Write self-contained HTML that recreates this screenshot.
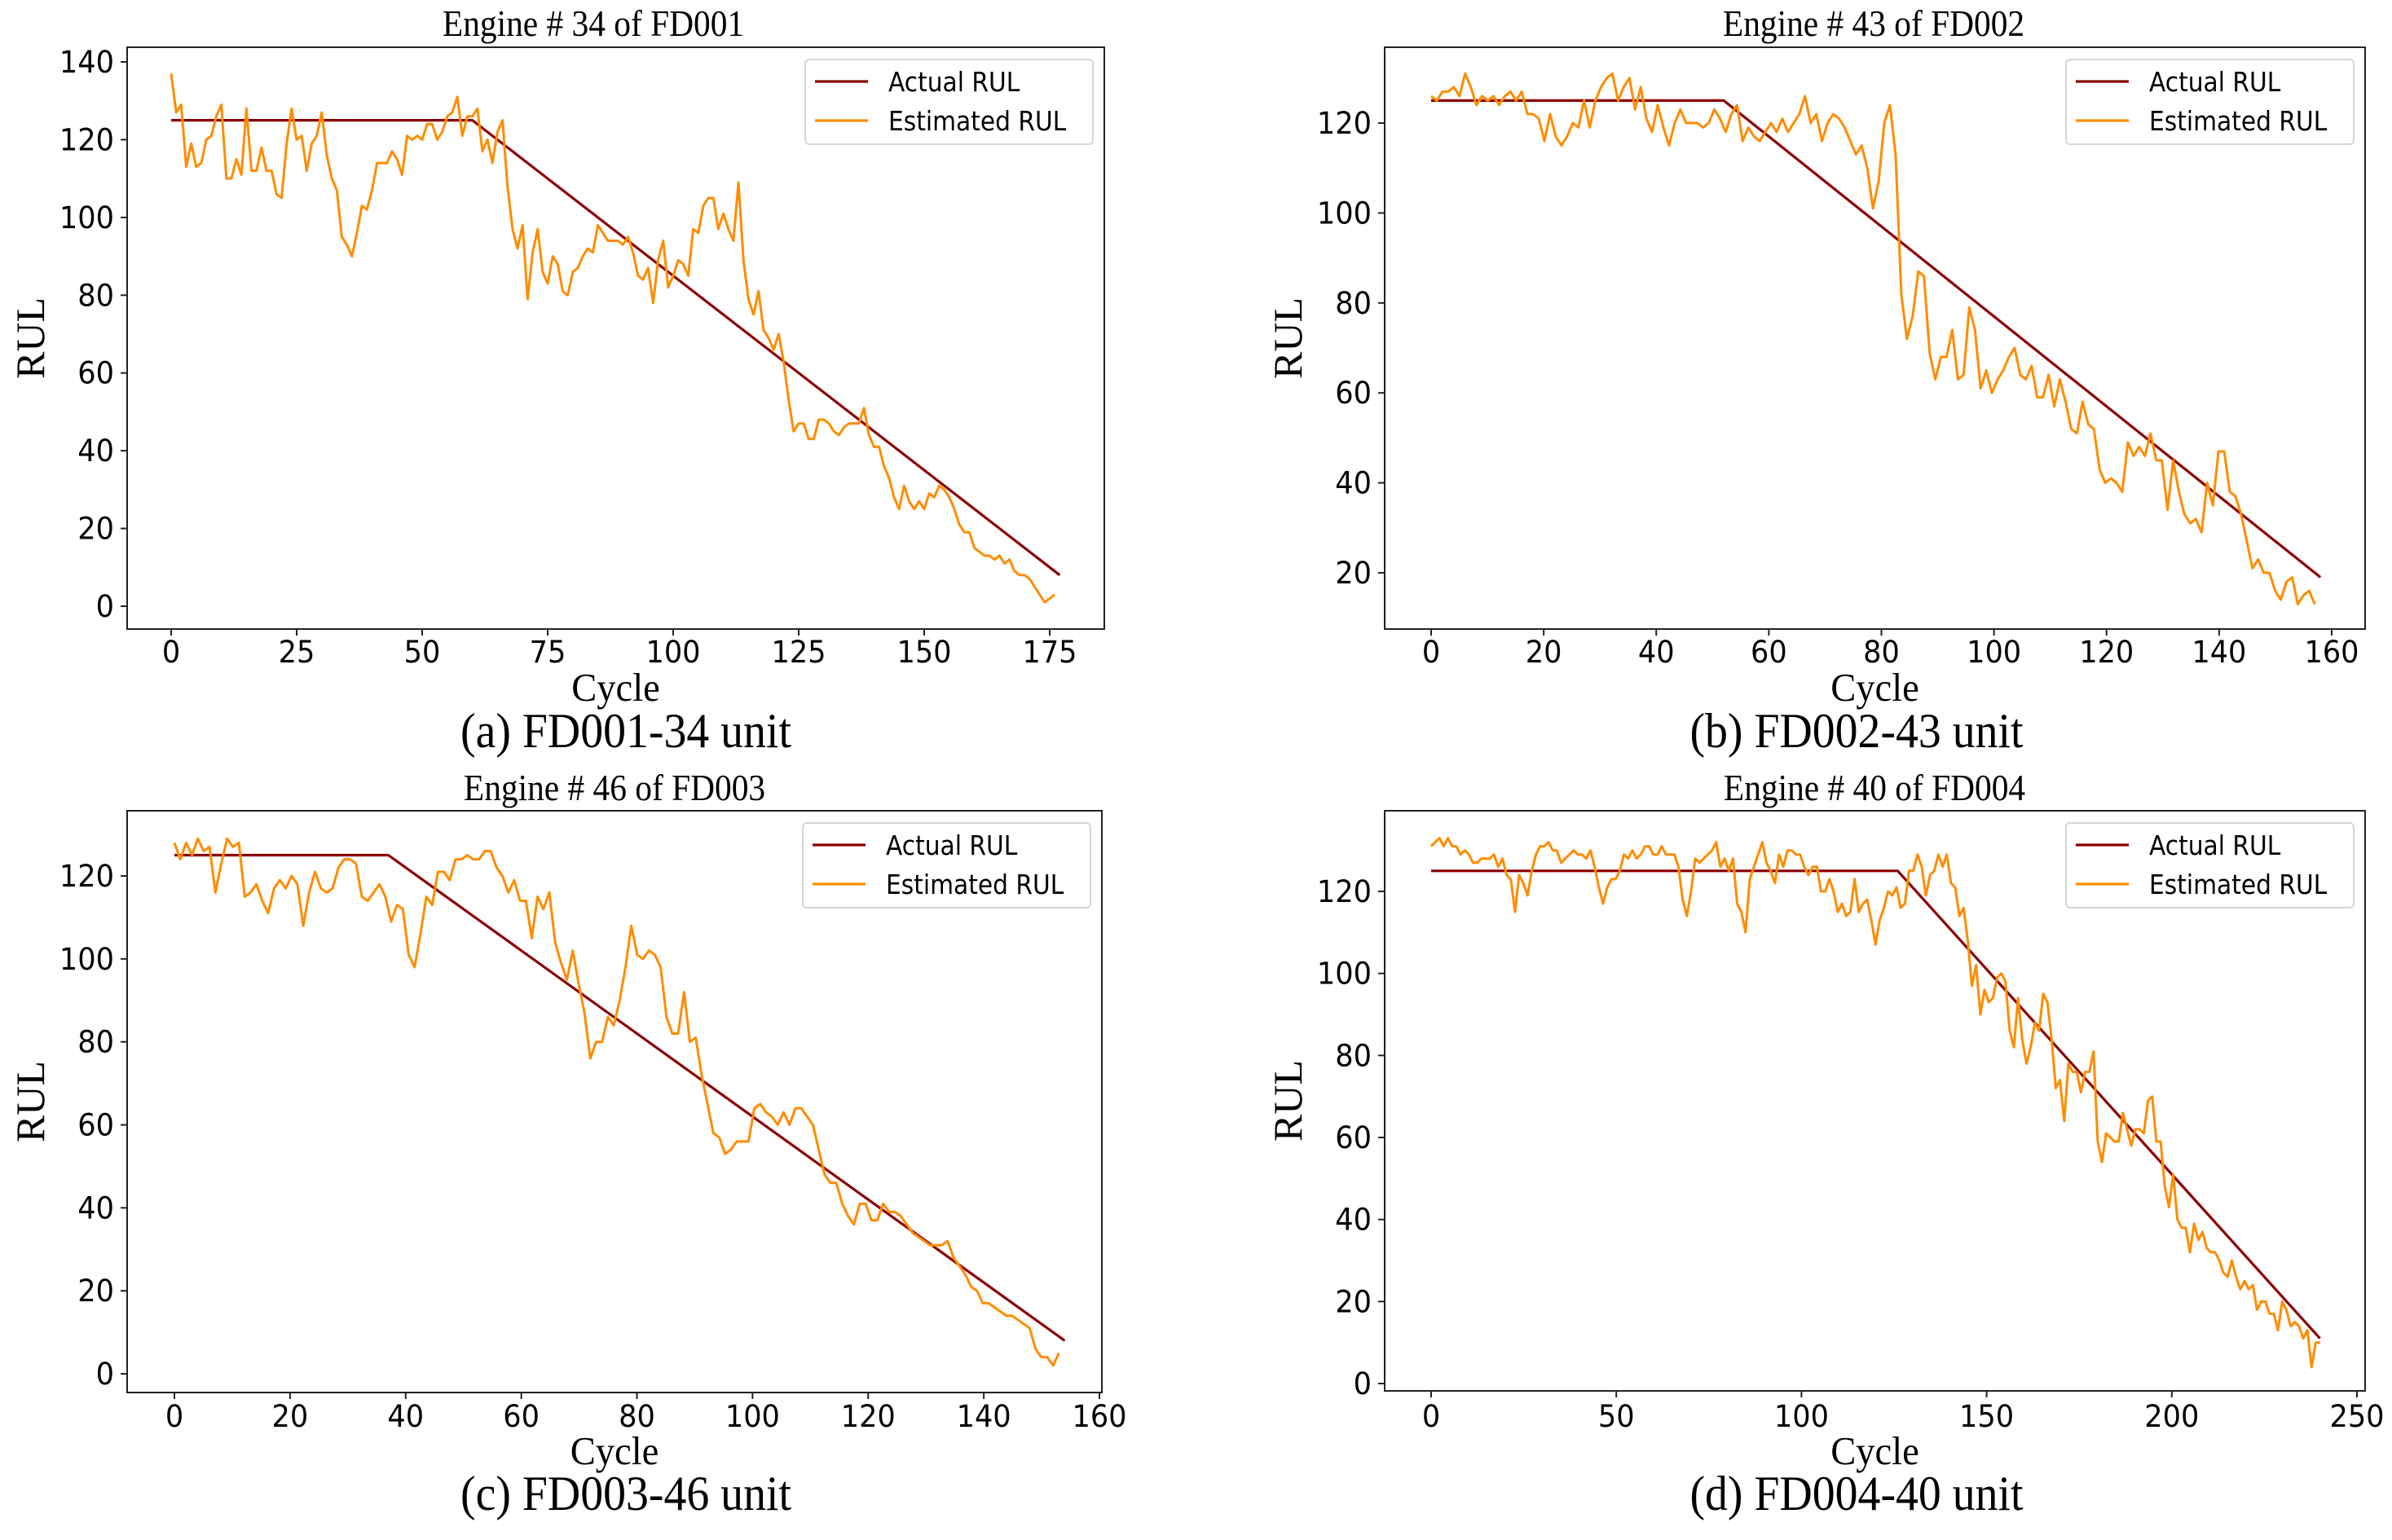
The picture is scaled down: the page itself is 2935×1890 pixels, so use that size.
<!DOCTYPE html>
<html><head><meta charset="utf-8"><style>
html,body{margin:0;padding:0;background:#fff;}
svg{display:block;}
</style></head><body>
<svg id="fig" width="2935" height="1890" viewBox="0 0 2935 1890" xmlns="http://www.w3.org/2000/svg"></svg>
<script>
// ---------- data ----------
const actualCyclesA=[0,60,177]; const actualValsA=[125,125,8];
const lastCycleA=176;
const estA=[137,127,129,113,119,113,114,120,121,126,129,110,110,115,111,128,112,112,118,112,112,106,105,119,128,120,121,112,119,121,127,116,110,107,95,93,90,96,103,102,107,114,114,114,117,115,111,121,120,121,120,124,124,120,122,126,127,131,121,126,126,128,117,120,114,122,125,108,97,92,98,79,91,97,86,83,90,88,81,80,86,87,90,92,91,98,96,94,94,94,93,95,91,85,84,87,78,89,94,82,85,89,88,85,97,96,103,105,105,97,101,97,94,109,89,79,75,81,71,69,66,70,63,53,45,47,47,43,43,48,48,47,45,44,46,47,47,47,51,44,41,41,36,33,28,25,31,27,25,27,25,29,28,31,30,28,25,21,19,19,15,14,13,13,12,13,11,12,9,8,8,7,5,3,1,2,3];
const xTicksA=[0,25,50,75,100,125,150,175]; const yTicksA=[0,20,40,60,80,100,120,140];

const actualCyclesB=[0,52,158]; const actualValsB=[125,125,19];
const lastCycleB=157;
const estB=[126,125,127,127,128,126,131,128,124,126,125,126,124,126,127,125,127,122,122,121,116,122,117,115,117,120,119,125,119,125,128,130,131,125,128,130,123,128,121,118,124,119,115,120,123,120,120,120,119,120,123,121,118,122,124,116,119,117,116,118,120,118,121,118,120,122,126,120,122,116,120,122,121,119,116,113,115,110,101,107,120,124,113,82,72,77,87,86,69,63,68,68,74,63,64,79,74,61,65,60,63,65,68,70,64,63,66,59,59,64,57,63,58,52,51,58,53,52,43,40,41,40,38,49,46,48,46,51,45,45,34,45,38,33,31,32,29,40,35,47,47,38,37,33,27,21,23,20,20,16,14,18,19,13,15,16,13];
const xTicksB=[0,20,40,60,80,100,120,140,160]; const yTicksB=[20,40,60,80,100,120];

const actualCyclesC=[0,37,154]; const actualValsC=[125,125,8];
const lastCycleC=153;
const estC=[128,124,128,125,129,126,127,116,123,129,127,128,115,116,118,114,111,117,119,117,120,118,108,116,121,117,116,117,122,124,124,123,115,114,116,118,115,109,113,112,101,98,106,115,113,121,121,119,124,124,125,124,124,126,126,122,120,116,119,114,114,105,115,112,116,104,99,95,102,94,87,76,80,80,86,84,90,98,108,101,100,102,101,98,86,82,82,92,80,81,72,65,58,57,53,54,56,56,56,64,65,63,62,60,63,60,64,64,62,60,54,48,46,46,41,38,36,41,41,37,37,41,39,39,38,36,34,33,32,31,31,31,32,28,26,24,21,20,17,17,16,15,14,14,13,12,11,6,4,4,2,5];
const xTicksC=[0,20,40,60,80,100,120,140,160]; const yTicksC=[0,20,40,60,80,100,120];

const actualCyclesD=[0,126,240]; const actualValsD=[125,125,11];
const lastCycleD=240;
const estD=[131,132,133,131,133,131,131,129,130,129,127,127,128,128,128,129,126,128,124,123,115,124,122,119,125,129,131,131,132,130,130,127,128,129,130,129,129,128,130,126,121,117,121,123,123,125,129,128,130,128,129,131,131,129,129,131,129,129,129,126,118,114,120,128,127,128,129,130,132,126,128,125,128,117,115,110,123,126,129,132,127,125,122,129,126,130,130,129,129,126,124,126,126,120,120,123,120,115,117,114,115,123,115,117,118,113,107,113,116,120,119,121,116,117,125,125,129,126,119,124,125,129,126,129,122,121,114,116,108,97,102,90,96,93,94,99,100,98,86,82,94,84,78,82,88,86,95,93,84,72,74,64,78,76,76,71,76,76,81,59,54,61,60,59,59,66,62,58,62,62,61,69,70,59,59,48,43,51,40,38,38,32,39,35,37,33,32,32,30,27,26,30,26,23,25,23,24,18,20,20,17,17,13,20,18,14,15,14,11,13,4,10,10];
const xTicksD=[0,50,100,150,200,250]; const yTicksD=[0,20,40,60,80,100,120];

// ---------- layout ----------
const NS='http://www.w3.org/2000/svg';
const svg=document.getElementById('fig');
function mk(tag,attrs,parent){const e=document.createElementNS(NS,tag);for(const k in attrs)e.setAttribute(k,attrs[k]);(parent||svg).appendChild(e);return e;}
function txt(str,x,y,size,family,anchor,sx,parent,rot){
  const t=mk('text',{transform:'translate('+x+','+y+')'+(rot?' rotate('+rot+')':'')+' scale('+sx+',1)','font-size':size,'font-family':family,'text-anchor':anchor,fill:'#000'},parent);
  t.textContent=str;return t;}
const SANS='"DejaVu Sans","Liberation Sans",sans-serif';
const SERIF='"Liberation Serif",serif';

const panels=[
 {key:'a',title:'Engine # 34 of FD001',caption:'(a) FD001-34 unit',L:156,R:1355,T:58,B:772,x0:210,x1:1288,c0:0,c1:175,yv0:0,yp0:744,yv1:140,yp1:76,ac:actualCyclesA,av:actualValsA,est:estA,last:lastCycleA,xt:xTicksA,yt:yTicksA,tickY:800,cycY:860,capY:917,titleY:44,capX:768,titleX:728},
 {key:'b',title:'Engine # 43 of FD002',caption:'(b) FD002-43 unit',L:1699,R:2902,T:58,B:772,x0:1756,x1:2861,c0:0,c1:160,yv0:20,yp0:703,yv1:120,yp1:151,ac:actualCyclesB,av:actualValsB,est:estB,last:lastCycleB,xt:xTicksB,yt:yTicksB,tickY:800,cycY:860,capY:917,titleY:44,capX:2278,titleX:2299},
 {key:'c',title:'Engine # 46 of FD003',caption:'(c) FD003-46 unit',L:156,R:1352,T:995,B:1709,x0:214,x1:1349,c0:0,c1:160,yv0:0,yp0:1686,yv1:120,yp1:1075,ac:actualCyclesC,av:actualValsC,est:estC,last:lastCycleC,xt:xTicksC,yt:yTicksC,tickY:1738,cycY:1797,capY:1853,titleY:982,capX:768,titleX:754},
 {key:'d',title:'Engine # 40 of FD004',caption:'(d) FD004-40 unit',L:1699,R:2902,T:995,B:1707,x0:1756,x1:2892,c0:0,c1:250,yv0:0,yp0:1698,yv1:120,yp1:1094,ac:actualCyclesD,av:actualValsD,est:estD,last:lastCycleD,xt:xTicksD,yt:yTicksD,tickY:1738,cycY:1797,capY:1853,titleY:982,capX:2278,titleX:2300}
];

panels.forEach(p=>{
  const g=mk('g',{});
  
  
  const X=c=>p.x0+(c-p.c0)*(p.x1-p.x0)/(p.c1-p.c0);
  const Y=v=>p.yp0+(v-p.yv0)*(p.yp1-p.yp0)/(p.yv1-p.yv0);
  const ti=txt(p.title,p.titleX,p.titleY,46,SERIF,'middle',0.9,g);
  
  
  const ap=p.ac.map((c,i)=>X(c).toFixed(1)+','+Y(p.av[i]).toFixed(1)).join(' ');
  const al=mk('polyline',{points:ap,fill:'none',stroke:'#8b0000','stroke-width':3.2,'stroke-linejoin':'round'},g);
  
  
  const n=p.est.length;
  const ep=p.est.map((v,i)=>X(i*p.last/(n-1)).toFixed(1)+','+Y(v).toFixed(1)).join(' ');
  const el=mk('polyline',{points:ep,fill:'none',stroke:'#ff8c00','stroke-width':3,'stroke-linejoin':'round'},g);
  
  
  const fr=mk('rect',{x:p.L,y:p.T,width:p.R-p.L,height:p.B-p.T,fill:'none',stroke:'#222','stroke-width':2},g);
  
  
  p.xt.forEach(c=>{
    const x=X(c);
    const tk=mk('line',{x1:x,y1:p.B,x2:x,y2:p.B+8,stroke:'#222','stroke-width':2},g);
    
    
    const tl=txt(String(c),x,p.tickY+13,37,SANS,'middle',0.95,g);
    
    
  });
  p.yt.forEach(v=>{
    const y=Y(v);
    const tk=mk('line',{x1:p.L-8,y1:y,x2:p.L,y2:y,stroke:'#222','stroke-width':2},g);
    
    
    const tl=txt(String(v),p.L-16,y+13,37,SANS,'end',0.95,g);
    
    
  });
  const xl=txt('Cycle',(p.L+p.R)/2,p.cycY,49,SERIF,'middle',0.95,g);
  
  
  const yl=txt('RUL',p.L-102,(p.T+p.B)/2,50,SERIF,'middle',1,g,-90);
  
  
  const cp=txt(p.caption,p.capX,p.capY,60,SERIF,'middle',0.93,g);
  
  
  const lw=353,lh=104,lx=p.R-14-lw,ly=p.T+15;
  const lg=mk('g',{},g);
  
  
  mk('rect',{x:lx,y:ly,width:lw,height:lh,rx:5,fill:'#fff',stroke:'#d6d6d6','stroke-width':2},lg);
  const e1=mk('g',{},lg);
  
  
  mk('line',{x1:lx+12,y1:ly+27,x2:lx+77,y2:ly+27,stroke:'#8b0000','stroke-width':3.2},e1);
  txt('Actual RUL',lx+102,ly+39,33,SANS,'start',0.9,e1);
  const e2=mk('g',{},lg);
  
  
  mk('line',{x1:lx+12,y1:ly+75,x2:lx+77,y2:ly+75,stroke:'#ff8c00','stroke-width':3.2},e2);
  txt('Estimated RUL',lx+102,ly+87,33,SANS,'start',0.9,e2);
});
</script>
</body></html>
